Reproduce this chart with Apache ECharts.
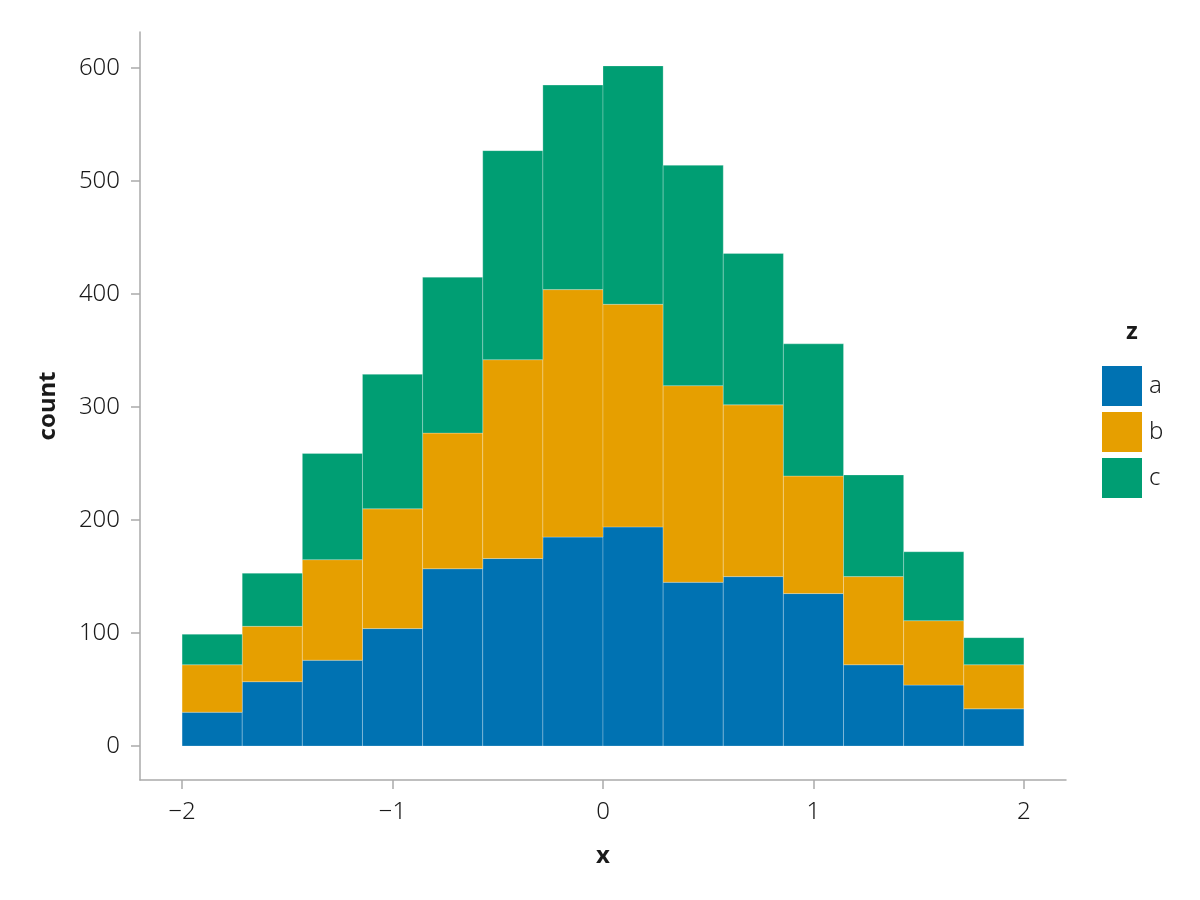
<!DOCTYPE html>
<html>
<head>
<meta charset="utf-8">
<script src="https://cdn.jsdelivr.net/npm/echarts@6/dist/echarts.min.js"></script>
<style>html,body{margin:0;padding:0;background:#fff}#c{width:1200px;height:900px}</style>
</head>
<body>
<div id="c"></div>
<script>
const binStart = -2;
const binEnd = 2;
const binCount = 14;
const groups = ['a', 'b', 'c'];
const colors = ['#0072B2', '#E69F00', '#009E73'];
const countsA = [30, 57, 76, 104, 157, 166, 185, 194, 145, 150, 135, 72, 54, 33];
const countsB = [42, 49, 89, 106, 120, 176, 219, 197, 174, 152, 104, 78, 57, 39];
const countsC = [27, 47, 94, 119, 138, 185, 181, 211, 195, 134, 117, 90, 61, 24];
const xTicks = [-2, -1, 0, 1, 2];
const yTicks = [0, 100, 200, 300, 400, 500, 600];

const FONT = "'Noto Sans', 'Open Sans', sans-serif";
const all = [countsA, countsB, countsC];
const w = (binEnd - binStart) / binCount;
const base = new Array(binCount).fill(0);
const series = groups.map((g, gi) => {
  const data = all[gi].map((v, i) => {
    const item = [binStart + i * w, binStart + (i + 1) * w, base[i], base[i] + v];
    base[i] += v;
    return item;
  });
  return {
    type: 'custom',
    name: g,
    itemStyle: { color: colors[gi] },
    encode: { x: [0, 1], y: [2, 3] },
    data: data,
    renderItem: function (params, api) {
      const p0 = api.coord([api.value(0), api.value(3)]);
      const p1 = api.coord([api.value(1), api.value(2)]);
      return {
        type: 'rect',
        shape: { x: p0[0], y: p0[1], width: p1[0] - p0[0], height: p1[1] - p0[1] },
        style: { fill: colors[gi], stroke: 'rgba(255,255,255,0.25)', lineWidth: 1 }
      };
    }
  };
});

const fmt = v => String(v).replace('-', '\u2212');
const chart = echarts.init(document.getElementById('c'));
chart.setOption({
  animation: false,
  backgroundColor: '#fff',
  textStyle: { fontFamily: FONT },
  grid: { left: 140, right: 134, top: 32, bottom: 120, containLabel: false },
  xAxis: {
    type: 'value', min: -2.2, max: 2.2,
    name: 'x', nameLocation: 'middle', nameGap: 64,
    nameTextStyle: { fontFamily: FONT, fontSize: 24, fontWeight: 'bold', color: '#1a1a1a' },
    axisLine: { show: true, onZero: false, lineStyle: { color: '#aaaaaa', width: 1.5 } },
    axisTick: { show: true, inside: false, length: 9, customValues: xTicks, lineStyle: { color: '#aaaaaa', width: 1.5 } },
    axisLabel: { customValues: xTicks, formatter: fmt, fontSize: 24, fontWeight: 300, margin: 20, color: '#1a1a1a', fontFamily: FONT },
    splitLine: { show: false }
  },
  yAxis: {
    type: 'value', min: -30, max: 632,
    name: 'count', nameLocation: 'middle', nameGap: 80, nameRotate: 90,
    nameTextStyle: { fontFamily: FONT, fontSize: 24, fontWeight: 'bold', color: '#1a1a1a' },
    axisLine: { show: true, onZero: false, lineStyle: { color: '#aaaaaa', width: 1.5 } },
    axisTick: { show: true, inside: false, length: 9, customValues: yTicks, lineStyle: { color: '#aaaaaa', width: 1.5 } },
    axisLabel: { customValues: yTicks, formatter: fmt, fontSize: 24, fontWeight: 300, margin: 20, color: '#1a1a1a', fontFamily: FONT },
    splitLine: { show: false }
  },
  legend: {
    orient: 'vertical', left: 1102, top: 366,
    itemWidth: 40, itemHeight: 40, itemGap: 6,
    icon: 'rect',
    data: groups,
    textStyle: { fontSize: 24, fontWeight: 300, color: '#1a1a1a', fontFamily: FONT, padding: [0, 0, 0, 2] },
    padding: 0
  },
  graphic: [{
    type: 'text', left: 1126, top: 320,
    style: { text: 'z', fontFamily: FONT, fontSize: 24, fontWeight: 'bold', fill: '#1a1a1a' }
  }],
  series: series
});
</script>
</body>
</html>
